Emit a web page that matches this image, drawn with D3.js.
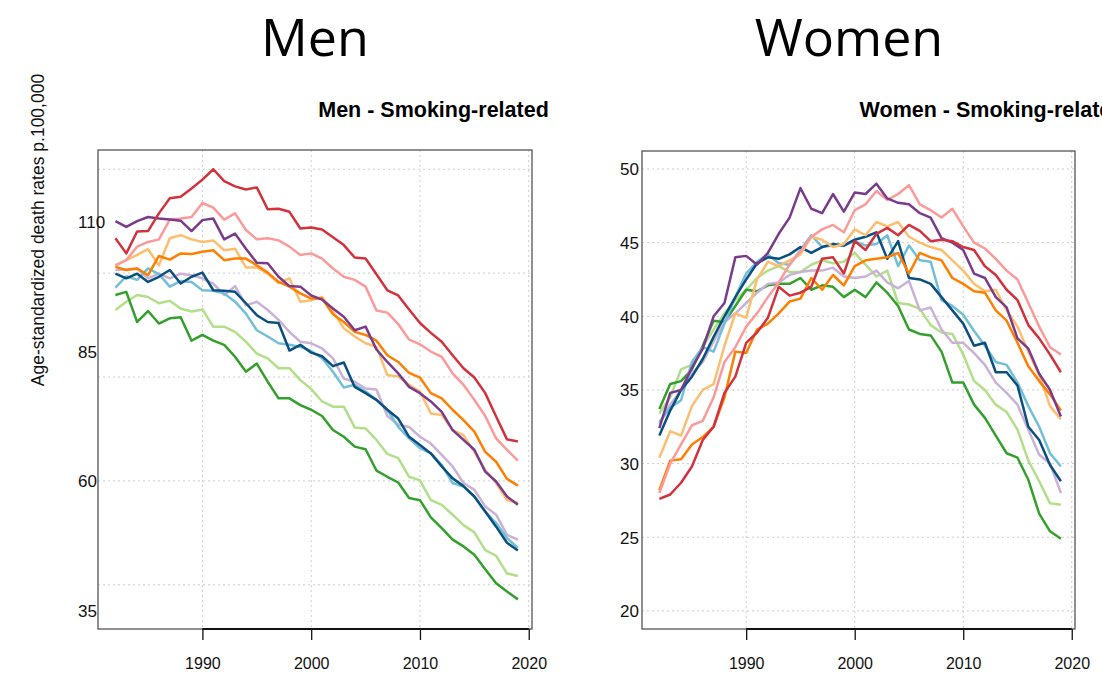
<!DOCTYPE html>
<html>
<head>
<meta charset="utf-8">
<script src="https://cdn.jsdelivr.net/npm/d3@7"></script>
<style>
  body { margin: 0; background: #fff; }
  svg { display: block; }
  .grid line { stroke: #cdcdcd; stroke-dasharray: 2,3; stroke-width: 1; }
  .tick text { font-family: "Liberation Sans", Arial, sans-serif; font-size: 16px; fill: #111; }
</style>
</head>
<body>
<div id="chart"></div>
<script>
const width = 1102, height = 676;

// years 1982..2019
const years = d3.range(1982, 2020);

const seriesNames = ["lightGreen", "green", "lightPurple", "cyan", "navy", "lightOrange", "orange", "pink", "purple", "red"];
const seriesColors = ["#b2df8a", "#33a02c", "#cab2d6", "#72bfd8", "#0b4f80", "#fdbf6f", "#ff7f00", "#fb9a99", "#7b3b8c", "#d1323c"];

// Men - smoking-related
const menRed = [106.7, 103.8, 108, 108.1, 111.5, 114.4, 114.7, 116.3, 118, 120, 117.7, 116.7, 116.1, 116.5, 112.3, 112.4, 111.8, 108.6, 108.8, 108.4, 106.9, 105.4, 103, 102.8, 99.8, 96.7, 95.7, 93, 90.4, 88.5, 86.8, 84.2, 81.7, 79.9, 76.9, 72.4, 68, 67.6];
const menPink = [101.5, 102.5, 105.1, 106, 106.5, 110.3, 110.5, 110.8, 113.5, 112.6, 110.3, 111.5, 108.3, 106.5, 106.7, 106.3, 105.1, 103.5, 103.8, 102.8, 100.9, 99.3, 98.7, 97.4, 92.8, 92.4, 90.2, 87.2, 86.3, 84.9, 83.9, 80.7, 78.5, 75.6, 72.5, 68.2, 66, 63.9];
const menPurple = [110, 108.9, 110, 110.8, 110.5, 110.3, 110.1, 108.1, 110.2, 110.5, 106.5, 107.6, 104.7, 102, 101.9, 99.3, 97.5, 97.4, 95.7, 94.9, 93.2, 91.6, 89, 89.7, 85.3, 82.9, 80.7, 78.1, 76.9, 75.3, 73.3, 69.8, 67.9, 66, 61.8, 59.9, 57, 55.4];
const menLightOrange = [101.5, 102.5, 103.5, 104.6, 101.5, 106.7, 107.3, 106.5, 106, 106.3, 104.4, 104.7, 101.1, 101.1, 99.9, 98.1, 99, 94.5, 94.8, 95.4, 92.6, 89.4, 87.8, 86.5, 85.8, 80.4, 80.1, 78.5, 77.2, 73, 72.7, 69.8, 68.8, 65.6, 62.1, 59.6, 56.3, 55.8];
const menOrange = [101.2, 100.6, 100.9, 99.6, 103.3, 102.6, 103.8, 103.7, 104.1, 104.4, 102.5, 102.8, 102.8, 101.5, 100.1, 98.3, 97.4, 96.1, 95.1, 95.1, 92.1, 90.6, 88.7, 88.1, 87, 84.2, 82.9, 80.8, 79.9, 76.9, 75.9, 73.7, 71.7, 69.5, 65.6, 63.7, 60.4, 59.1];
const menNavy = [99.9, 99, 99.9, 98.3, 99.3, 100.6, 98, 99.3, 100.1, 96.7, 96.6, 96.4, 94.2, 91.9, 90.6, 90.4, 85.1, 86.2, 84.7, 84, 82.1, 82.8, 78.1, 76.9, 75.6, 73.7, 72, 68.5, 66.9, 65.3, 62.8, 60.5, 59, 57, 54.1, 51.2, 48.1, 46.6];
const menCyan = [97.2, 99.4, 98.7, 100.9, 99.8, 97.4, 98.5, 98.3, 96.7, 96.6, 96.1, 94.5, 92.2, 89, 87.8, 86.5, 86.2, 85.8, 85, 83.6, 81, 78, 78.5, 77.2, 75.6, 73.7, 70.4, 68.2, 66.3, 65.3, 63.1, 59.6, 58.9, 57, 54.1, 51.9, 49, 47.1];
const menLightPurple = [100.6, 100.7, 100.9, 99, 99.9, 99, 99.9, 99.6, 99, 98, 95.8, 97.5, 93.8, 94.5, 92.9, 91, 88.7, 86.8, 86.5, 85.5, 83.6, 79.7, 79.1, 77.8, 77.6, 72.5, 70.8, 70.4, 68.5, 67.2, 65, 62.8, 59.6, 58.3, 55.1, 53.5, 49.6, 48.7];
const menLightGreen = [92.9, 94.5, 95.8, 95.4, 94.2, 94.7, 93.2, 92.6, 93, 89.7, 89.7, 88.7, 86.8, 84.5, 83.6, 81.7, 81.7, 79.4, 77.7, 75.3, 74.3, 74.3, 70.3, 70.1, 67.9, 65.2, 64.4, 60.8, 60.1, 56.3, 55.4, 53.5, 51.5, 50.1, 46.7, 45.6, 42.2, 41.7];
const menGreen = [95.8, 96.4, 90.6, 92.7, 90.3, 91.3, 91.5, 87, 88.1, 87, 86.2, 83.9, 81, 82.6, 79.1, 75.9, 75.9, 74.6, 73.7, 72.5, 69.8, 68.5, 66.6, 66.1, 62, 60.8, 59.7, 56.7, 56.3, 53, 50.9, 48.7, 47.4, 45.8, 43, 40.3, 38.7, 37.2];

// Women - smoking-related
const womenRed = [27.6, 27.9, 28.7, 29.8, 31.6, 32.5, 34.8, 35.9, 38.2, 38.9, 39.9, 42, 41.4, 41.6, 42, 43.9, 44, 42.9, 45.1, 44.5, 45.6, 46, 45.5, 46.2, 45.8, 45.1, 45.2, 45.1, 44.7, 44.5, 43.4, 42.8, 41.8, 41.1, 39.4, 38.5, 37.4, 36.2];
const womenPink = [28, 30, 31.3, 32.6, 32.9, 34.5, 36.9, 37.9, 39.3, 40.2, 41.3, 42.3, 43.5, 44.4, 45.4, 45.9, 46.2, 45.7, 47.2, 47.6, 48.5, 47.9, 48.3, 48.9, 47.6, 47.2, 46.7, 47.3, 46.1, 45, 44.6, 43.9, 43.1, 42.5, 40.9, 39.3, 37.9, 37.4];
const womenPurple = [32.4, 34.8, 35, 36.5, 37.8, 40, 40.9, 44, 44.1, 43.5, 44.3, 45.6, 46.7, 48.7, 47.3, 47, 48.3, 47.1, 48.4, 48.3, 49, 48, 47.7, 47.6, 47, 46.7, 45.3, 45, 44.5, 42.9, 42.6, 41.3, 40.6, 38.5, 37.8, 36.1, 35, 33.2];
const womenLightOrange = [30.4, 32.2, 31.9, 33.9, 35, 35.4, 38, 40.2, 39.9, 42.5, 43.7, 43.4, 43.8, 44.2, 45.4, 45.2, 44.7, 44.9, 45.9, 45.5, 46.4, 46.1, 46.4, 45.4, 45, 44.7, 44.5, 43.8, 43.1, 42.2, 41.7, 41.8, 40.4, 39.3, 37.6, 36, 33.9, 33];
const womenOrange = [28.2, 30.2, 30.3, 31.3, 31.8, 32.5, 34.5, 37.6, 37.5, 39.1, 39.5, 40.2, 41, 41.2, 42.6, 41.8, 42.8, 42.1, 43.4, 43.8, 43.9, 44, 44.3, 42.9, 44.3, 44, 43.8, 42.6, 42.2, 41.7, 41.6, 40.4, 39.7, 38.2, 36.6, 35.6, 34.7, 33.6];
const womenNavy = [31.9, 33.6, 35, 35.9, 37.1, 38.6, 40, 41.3, 42.5, 43.6, 44, 43.9, 44.2, 44.7, 44.3, 44.7, 44.9, 44.8, 45.2, 45.4, 45.7, 43.9, 45.1, 42.6, 42.5, 42.2, 41.3, 40.4, 39.5, 38, 38.2, 36.2, 36.2, 35.3, 32.5, 31.6, 29.9, 28.8];
const womenCyan = [32.8, 33.8, 34.3, 36.9, 37.9, 37.6, 39.5, 41.3, 42.9, 43.7, 44.2, 43.6, 43.5, 44.5, 45.5, 44.7, 44.8, 44.8, 45.1, 44.8, 44.9, 45.5, 43.4, 44.8, 43.8, 43.7, 41.1, 40.7, 40.1, 39, 38, 36.9, 36.7, 35.5, 33.9, 32.5, 30.7, 29.8];
const womenLightPurple = [32.7, 34, 35, 36.1, 36.9, 38.3, 39.6, 40.2, 40.9, 41.6, 42.2, 42.3, 42.8, 43, 43.1, 43.1, 43.3, 42.7, 42.6, 42.7, 43.1, 42.3, 41.9, 42.4, 40.4, 40.6, 39.1, 38.2, 38.2, 37.5, 36.7, 35.5, 34.8, 34, 32.3, 30.6, 30, 28];
const womenLightGreen = [33.4, 34.5, 36.4, 36.7, 37.9, 39.1, 40.2, 41.1, 41.8, 42.6, 43.1, 43.4, 43, 43, 43.5, 43.8, 43.6, 43.7, 44.3, 43.5, 42.7, 43.1, 40.9, 40.8, 40.5, 39.4, 38.9, 38.8, 37.4, 35.6, 35, 34, 33.5, 32.3, 30.2, 28.8, 27.3, 27.2];
const womenGreen = [33.7, 35.4, 35.6, 36.4, 38, 39.7, 39.6, 40.7, 41.8, 41.7, 42.1, 42.2, 42.2, 42.6, 41.8, 42.1, 42, 41.3, 41.8, 41.3, 42.3, 41.6, 40.7, 39.1, 38.8, 38.7, 37.6, 35.5, 35.5, 34, 33.1, 31.9, 30.7, 30.4, 28.9, 26.6, 25.4, 24.9];

// axis labels
const xTicks = [1990, 2000, 2010, 2020];
const menGrid = [40, 60, 80, 100, 120];
const menLabels = [35, 60, 85, 110];
const womenGrid = [20, 25, 30, 35, 40, 45, 50];
const womenLabels = [20, 25, 30, 35, 40, 45, 50];

var svg = d3.select("#chart").append("svg")
    .attr("width", width)
    .attr("height", height);

function drawPanel(p) {
    var x = d3.scaleLinear().domain([1980.4, 2020.3]).range([p.left, p.right]);
    var y = d3.scaleLinear().domain(p.yDomain).range([p.bottom, p.top]);

    var g = svg.append("g");

    // dotted grid
    var grid = g.append("g").attr("class", "grid");
    grid.selectAll(".hg")
        .data(p.grid)
        .enter()
        .append("line")
        .attr("x1", p.left).attr("x2", p.right)
        .attr("y1", function (d) { return y(d); })
        .attr("y2", function (d) { return y(d); });
    grid.selectAll(".vg")
        .data(xTicks)
        .enter()
        .append("line")
        .attr("x1", function (d) { return x(d); })
        .attr("x2", function (d) { return x(d); })
        .attr("y1", p.top).attr("y2", p.bottom);

    // lines
    var line = d3.line()
        .x(function (d, i) { return x(years[i]); })
        .y(function (d) { return y(d); });

    g.selectAll(".series")
        .data(p.series)
        .enter()
        .append("path")
        .attr("class", "series")
        .attr("fill", "none")
        .attr("stroke", function (d) { return d.color; })
        .attr("stroke-width", 2.5)
        .attr("stroke-linejoin", "round")
        .attr("d", function (d) { return line(d.values); });

    // box
    g.append("rect")
        .attr("x", p.left).attr("y", p.top)
        .attr("width", p.right - p.left).attr("height", p.bottom - p.top)
        .attr("fill", "none")
        .attr("stroke", "#555")
        .attr("stroke-width", 1.3);

    // x axis (R style: line from first to last tick)
    var xAxis = d3.axisBottom(x)
        .tickValues(xTicks)
        .tickFormat(d3.format("d"))
        .tickSize(11)
        .tickPadding(18);
    var ax = g.append("g")
        .attr("transform", "translate(0," + p.bottom + ")")
        .call(xAxis);
    ax.select(".domain").remove();
    ax.selectAll(".tick line").attr("stroke", "#111").attr("stroke-width", 1.3);
    g.append("line")
        .attr("x1", x(xTicks[0])).attr("x2", x(xTicks[xTicks.length - 1]))
        .attr("y1", p.bottom).attr("y2", p.bottom)
        .attr("stroke", "#111")
        .attr("stroke-width", 2);

    // y labels
    g.selectAll(".ylab")
        .data(p.labels)
        .enter()
        .append("text")
        .attr("class", "ylab")
        .attr("x", p.labelX)
        .attr("y", function (d) { return y(d); })
        .attr("dy", "0.38em")
        .style("font-family", "'Liberation Sans', Arial, sans-serif")
        .style("font-size", "17px")
        .attr("fill", "#111")
        .text(function (d) { return d; });

    // titles
    svg.append("text")
        .attr("x", p.titleX).attr("y", 56)
        .attr("text-anchor", "middle")
        .style("font-family", "'Open Sans', Lato, sans-serif")
        .style("font-size", "52px")
        .attr("fill", "#000")
        .text(p.title);

    // the women subtitle runs past the right edge, as in the source figure
    svg.append("text")
        .attr("x", p.subX).attr("y", 117)
        .attr("text-anchor", "middle")
        .style("font-family", "'Liberation Sans', Arial, sans-serif")
        .style("font-size", "21.5px")
        .style("font-weight", "bold")
        .attr("fill", "#000")
        .text(p.subtitle);
}

function seriesFor(arrays) {
    return seriesNames.map(function (name, i) {
        return { name: name, color: seriesColors[i], values: arrays[i] };
    });
}

function main() {
    drawPanel({
        left: 98, right: 532, top: 150, bottom: 629,
        yDomain: [31.5, 123.7],
        grid: menGrid, labels: menLabels, labelX: 78,
        title: "Men", titleX: 315,
        subtitle: "Men - Smoking-related", subX: 433.5,
        series: seriesFor([menLightGreen, menGreen, menLightPurple, menCyan, menNavy, menLightOrange, menOrange, menPink, menPurple, menRed])
    });

    drawPanel({
        left: 642, right: 1075, top: 151, bottom: 629,
        yDomain: [18.77, 51.22],
        grid: womenGrid, labels: womenLabels, labelX: 620,
        title: "Women", titleX: 849,
        subtitle: "Women - Smoking-related", subX: 992,
        series: seriesFor([womenLightGreen, womenGreen, womenLightPurple, womenCyan, womenNavy, womenLightOrange, womenOrange, womenPink, womenPurple, womenRed])
    });

    // shared y axis title
    svg.append("text")
        .attr("transform", "translate(44,230) rotate(-90)")
        .attr("text-anchor", "middle")
        .style("font-family", "'Liberation Sans', Arial, sans-serif")
        .style("font-size", "17.5px")
        .attr("fill", "#111")
        .text("Age-standardized death rates p.100,000");
}

main();
</script>
</body>
</html>
